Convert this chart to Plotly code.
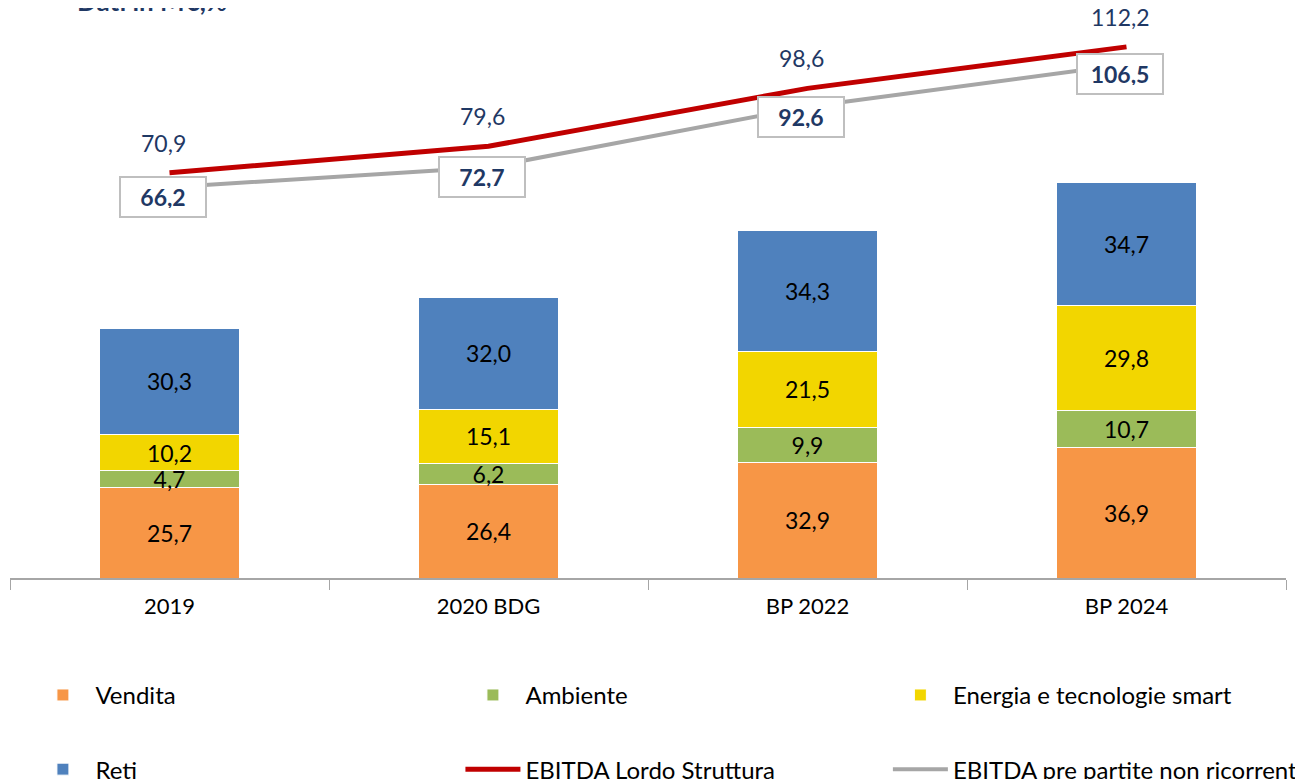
import plotly.graph_objects as go

# Data
categories = ['2019', '2020 BDG', 'BP 2022', 'BP 2024']
vendita = [25.7, 26.4, 32.9, 36.9]
ambiente = [4.7, 6.2, 9.9, 10.7]
energia = [10.2, 15.1, 21.5, 29.8]
reti = [30.3, 32.0, 34.3, 34.7]
ebitda_lordo = [70.9, 79.6, 98.6, 112.2]
ebitda_pre = [66.2, 72.7, 92.6, 106.5]

FONT = 'Lato'
NAVY = '#1F3864'

fig = go.Figure()

bar_series = [
    ('Vendita', vendita, '#F79646', 'legend', 'g1'),
    ('Ambiente', ambiente, '#9BBB59', 'legend2', 'g1'),
    ('Energia e tecnologie smart', energia, '#F2D600', 'legend3', 'g1'),
    ('Reti', reti, '#4F81BD', 'legend', 'g2'),
]
for name, vals, color, leg, grp in bar_series:
    fig.add_trace(go.Bar(
        x=categories, y=vals, name=name,
        marker=dict(color=color, line=dict(color='white', width=1)),
        text=vals, texttemplate='%{y:.1f}',
        textposition='inside', insidetextanchor='middle',
        constraintext='none',
        textfont=dict(family=FONT, size=23, color='black'),
        legend=leg, legendgroup=grp,
        hoverinfo='skip',
    ))

fig.add_trace(go.Scatter(
    x=categories, y=ebitda_pre, name='EBITDA pre partite non ricorrenti',
    mode='lines', line=dict(color='#A6A6A6', width=4),
    yaxis='y2', legend='legend3', legendgroup='g2',
))
fig.add_trace(go.Scatter(
    x=categories, y=ebitda_lordo, name='EBITDA Lordo Struttura',
    mode='lines', line=dict(color='#C00000', width=5),
    yaxis='y2', legend='legend2', legendgroup='g2',
))

# value labels for the lines (x given as category index)
for i, v in enumerate(ebitda_lordo):
    fig.add_annotation(
        x=i, y=v, xref='x', yref='y2', text=f'{v:.1f}'.replace('.', ','),
        showarrow=False, yshift=30, xshift=-6,
        font=dict(family=FONT, size=23, color=NAVY),
    )
for i, v in enumerate(ebitda_pre):
    fig.add_annotation(
        x=i, y=v, xref='x', yref='y2', text=f'<b>{v:.1f}</b>'.replace('.', ','),
        showarrow=False, yshift=-10, xshift=-7,
        font=dict(family=FONT, size=23, color=NAVY),
        bgcolor='white', bordercolor='#BFBFBF', borderwidth=2,
        borderpad=8, width=68, height=22,
    )

fig.add_annotation(
    x=0.051, y=1.016, xref='paper', yref='paper', xanchor='left', yanchor='middle',
    text='<b>Dati in M€,%</b>', showarrow=False,
    font=dict(family=FONT, size=26, color=NAVY),
)

legend_style = dict(
    orientation='v', yanchor='top', xanchor='left',
    font=dict(family=FONT, size=24, color='black'),
    traceorder='grouped', tracegroupgap=40, itemwidth=55,
    bgcolor='rgba(0,0,0,0)',
)

# page body adds an 8px margin, so the figure is sized to fit the window
fig.update_layout(
    width=1295, height=771,
    margin=dict(l=2, r=17, t=2, b=201, autoexpand=False),
    paper_bgcolor='white', plot_bgcolor='white',
    barmode='stack', bargap=0.56,
    separators=',.',
    font=dict(family=FONT, size=20, color='black'),
    xaxis=dict(
        type='category', categoryorder='array', categoryarray=categories,
        range=[-0.5, len(categories) - 0.5],
        showline=True, linecolor='#A6A6A6', linewidth=1.5,
        ticks='outside', tickson='boundaries', ticklen=10, tickcolor='#A6A6A6',
        tickfont=dict(family=FONT, size=22, color='black'),
        ticklabelstandoff=8, showgrid=False,
    ),
    yaxis=dict(range=[0, 161.1], visible=False, showgrid=False),
    yaxis2=dict(range=[-62, 124.3], overlaying='y', visible=False, showgrid=False),
    legend=dict(x=0.016, y=-0.167, **legend_style),
    legend2=dict(x=0.353, y=-0.167, **legend_style),
    legend3=dict(x=0.688, y=-0.167, **legend_style),
    showlegend=True,
)

fig.write_html('out.html')
